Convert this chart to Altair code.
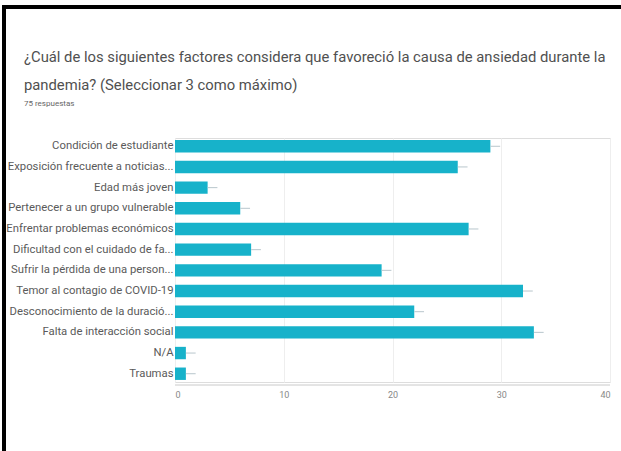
import altair as alt
import pandas as pd

categories = [
    "Condición de estudiante",
    "Exposición frecuente a noticias...",
    "Edad más joven",
    "Pertenecer a un grupo vulnerable",
    "Enfrentar problemas económicos",
    "Dificultad con el cuidado de fa...",
    "Sufrir la pérdida de una person...",
    "Temor al contagio de COVID-19",
    "Desconocimiento de la duració...",
    "Falta de interacción social",
    "N/A",
    "Traumas",
]
values = [29, 26, 3, 6, 27, 7, 19, 32, 22, 33, 1, 1]
x_ticks = [0, 10, 20, 30, 40]

df = pd.DataFrame({"factor": categories, "count": values})

W, H = 435, 244
PAD_L, PAD_T = 175, 138
TOTAL_W, TOTAL_H = 621, 451

y_enc = alt.Y(
    "factor:N",
    sort=categories,
    scale=alt.Scale(paddingInner=0.4, paddingOuter=0.1),
    axis=alt.Axis(
        title=None, ticks=False, domain=False, labelPadding=2,
        labelFontSize=11.3, labelColor="#5a5a5a", labelFont="Roboto",
        labelLimit=200,
    ),
)
x_scale = alt.Scale(domain=[0, 40], nice=False)

bars = alt.Chart(df).mark_bar(color="#17b2ca").encode(
    x=alt.X(
        "count:Q", scale=x_scale,
        axis=alt.Axis(
            title=None, values=x_ticks, ticks=False, domain=False,
            labelFontSize=9, labelColor="#888888", labelFont="Roboto",
            grid=True, gridColor="#eeeeee", labelPadding=8,
        ),
    ),
    y=y_enc,
)

whiskers = alt.Chart(df).transform_calculate(
    end="datum.count + 0.9"
).mark_rule(color="#b8c6cc", strokeWidth=1).encode(
    x=alt.X("count:Q", scale=x_scale),
    x2="end:Q",
    y=alt.Y("factor:N", sort=categories),
)

baseline = alt.Chart(df).mark_rule(color="#e4e4e4").encode(
    x=alt.value(0), x2=alt.value(W), y=alt.value(H + 3)
)

frame_left = alt.Chart(df).mark_rule(color="#000000", strokeWidth=3).encode(
    x=alt.value(-171), y=alt.value(-132), y2=alt.value(TOTAL_H - PAD_T)
)
frame_top = alt.Chart(df).mark_rule(color="#000000", strokeWidth=3).encode(
    x=alt.value(-172.5), x2=alt.value(TOTAL_W - PAD_L), y=alt.value(-131)
)

chart = alt.layer(baseline, bars, whiskers, frame_left, frame_top).properties(
    width=W,
    height=H,
    padding={"left": PAD_L, "top": PAD_T, "right": TOTAL_W - PAD_L - W, "bottom": TOTAL_H - PAD_T - H},
    autosize=alt.AutoSizeParams(type="none"),
    title=alt.TitleParams(
        text=[
            "¿Cuál de los siguientes factores considera que favoreció la causa de ansiedad durante la",
            "pandemia? (Seleccionar 3 como máximo)",
        ],
        subtitle="75 respuestas",
        anchor="start",
        frame="group",
        dx=-151,
        offset=-103,
        font="Roboto",
        fontSize=14.8,
        fontWeight="normal",
        color="#505050",
        lineHeight=28,
        subtitleFont="Roboto",
        subtitleFontSize=8,
        subtitleColor="#666666",
        subtitlePadding=7,
    ),
).configure_view(stroke=None).configure(background="white")

chart.save("out.html", embed_options={"renderer": "svg", "actions": False})
